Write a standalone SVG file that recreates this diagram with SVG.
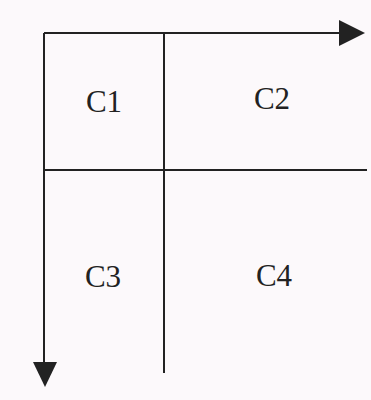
<svg xmlns="http://www.w3.org/2000/svg" width="371" height="400" viewBox="0 0 371 400">
<style>
.ln{stroke:#222;stroke-width:2;fill:none}
.hd{fill:#222;stroke:none}
.lb{font-family:"Liberation Serif",serif;font-size:31px;fill:#222;text-anchor:middle}
</style>
<rect width="371" height="400" fill="#fcf9fb"/>
<g id="connectors">
<path class="ln" d="M44,33 H342"/>
<polygon class="hd" points="339,20 365,33 339,46"/>
<path class="ln" d="M44,33 V365"/>
<polygon class="hd" points="33,362 57,362 45,387"/>
<path class="ln" d="M164,33 V373"/>
<path class="ln" d="M44,170 H367"/>
</g>
<g id="c1"><text class="lb" x="104" y="112">C1</text></g>
<g id="c2"><text class="lb" x="272" y="109">C2</text></g>
<g id="c3"><text class="lb" x="103" y="287">C3</text></g>
<g id="c4"><text class="lb" x="274" y="286">C4</text></g>
</svg>
